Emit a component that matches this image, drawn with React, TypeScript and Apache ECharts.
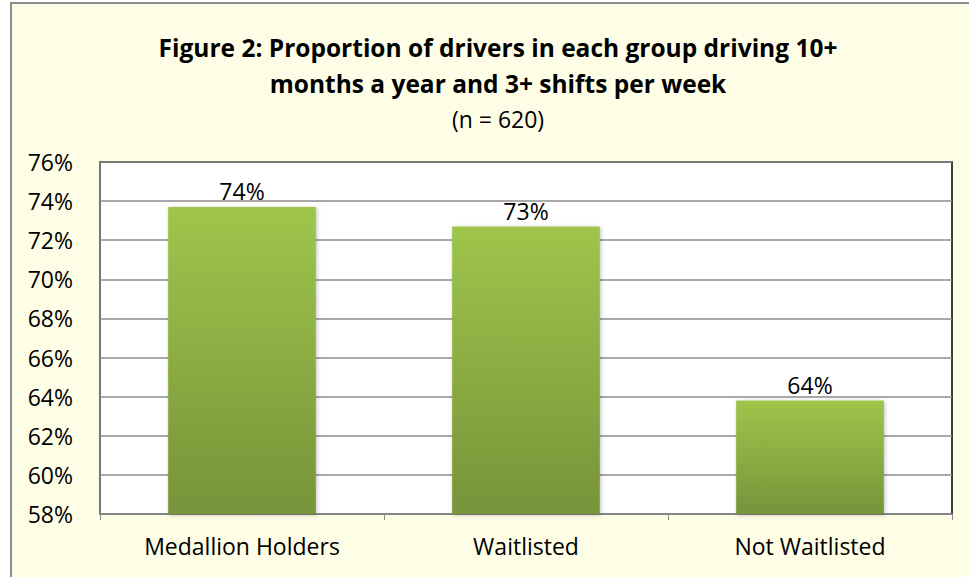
import React, { useEffect, useRef } from "react";
import * as echarts from "echarts";

const categories = ["Medallion Holders", "Waitlisted", "Not Waitlisted"];
const values = [73.7, 72.7, 63.8];
const yMin = 58;
const yMax = 76;
const yStep = 2;

const FONT = "Open Sans";

export default function App() {
  const ref = useRef<HTMLDivElement>(null);
  useEffect(() => {
    const chart = echarts.init(ref.current!, null, { renderer: "svg" });
    chart.setOption({
      animation: false,
      backgroundColor: "#ffffff",
      textStyle: { fontFamily: FONT },
      graphic: [
        {
          type: "rect",
          shape: { x: 11, y: 3, width: 980, height: 600 },
          style: { fill: "#FEFEE6", stroke: "#8c8c8c", lineWidth: 2 },
          z: -10,
          silent: true,
        },
      ],
      title: {
        text: "Figure 2: Proportion of drivers in each group driving 10+\nmonths a year and 3+ shifts per week",
        subtext: "(n = 620)",
        left: 493,
        textAlign: "center",
        top: 24,
        itemGap: 4,
        textStyle: {
          fontFamily: FONT,
          fontWeight: "bold",
          fontSize: 24.5,
          lineHeight: 36,
          color: "#000",
        },
        subtextStyle: {
          fontFamily: FONT,
          fontSize: 23,
          lineHeight: 28,
          color: "#000",
        },
      },
      grid: {
        left: 100,
        top: 162,
        right: 17,
        bottom: 63,
        show: true,
        backgroundColor: "#ffffff",
        borderColor: "#000000",
        borderWidth: 1.5,
      },
      xAxis: {
        type: "category",
        data: categories,
        axisLine: { show: true, lineStyle: { color: "#8a8a8a", width: 1.5 } },
        axisTick: { show: true, length: 6, lineStyle: { color: "#8a8a8a" } },
        axisLabel: { color: "#000", fontSize: 23, margin: 20, fontFamily: FONT },
      },
      yAxis: {
        type: "value",
        min: yMin,
        max: yMax,
        interval: yStep,
        axisLine: { show: true, lineStyle: { color: "#8a8a8a", width: 1.5 } },
        axisTick: { show: false },
        axisLabel: {
          color: "#000",
          fontSize: 23,
          margin: 27,
          fontFamily: FONT,
          formatter: "{value}%",
        },
        splitLine: { lineStyle: { color: "#8c8c8c", width: 1.5 } },
      },
      series: [
        {
          type: "bar",
          data: values,
          barWidth: "52%",
          itemStyle: {
            color: new echarts.graphic.LinearGradient(0, 0, 0, 1, [
              { offset: 0, color: "#9FC54B" },
              { offset: 1, color: "#76943A" },
            ]),
            shadowColor: "rgba(0,0,0,0.25)",
            shadowBlur: 4,
            shadowOffsetX: 1,
            shadowOffsetY: 1,
          },
          label: {
            show: true,
            position: "top",
            distance: 4,
            color: "#000",
            fontSize: 23,
            fontFamily: FONT,
            formatter: (p: any) => Math.round(p.value) + "%",
          },
        },
      ],
    });
    return () => chart.dispose();
  }, []);
  return (
    <div
      ref={ref}
      style={{ position: "absolute", left: 0, top: 0, width: 969, height: 577 }}
    />
  );
}
